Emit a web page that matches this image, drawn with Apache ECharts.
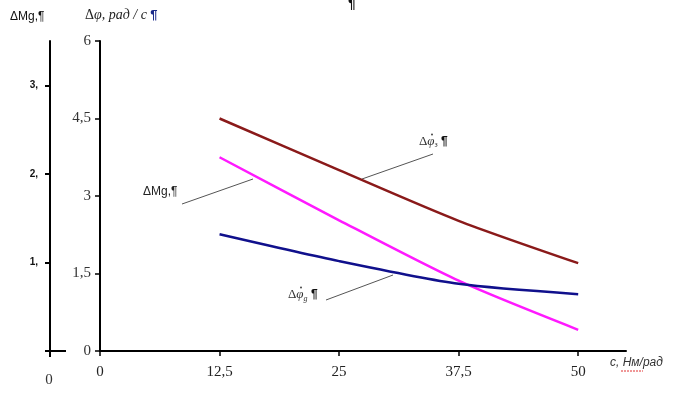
<!DOCTYPE html>
<html>
<head>
<meta charset="utf-8">
<script src="https://cdn.jsdelivr.net/npm/echarts@6/dist/echarts.min.js"></script>
<style>html,body{margin:0;padding:0;background:#fff}#c{width:674px;height:412px}</style>
</head>
<body>
<div id="c"></div>
<script>
// Data
const stiffness = [12.5, 25, 37.5, 50];            // c, Нм/рад
const dPhiZ     = [4.50, 3.50, 2.52, 1.70];        // Δφз (brown)
const dMg       = [3.75, 2.53, 1.36, 0.41];        // ΔMg (magenta), plotted on the Δφ scale
const dPhiG     = [2.26, 1.74, 1.30, 1.10];        // Δφg (navy)
const xTicks    = [0, 12.5, 25, 37.5, 50];
const yTicks    = [0, 1.5, 3, 4.5, 6];
const mgTicks   = [1, 2, 3];

const pairs = ys => stiffness.map((x, i) => [x, ys[i]]);
const comma = v => String(v).replace('.', ',');

const chart = echarts.init(document.getElementById('c'), null, {renderer: 'canvas'});
const serif = '"Liberation Serif", "DejaVu Serif", serif';
const sans = '"Liberation Sans", Arial, sans-serif';

chart.setOption({
  animation: false,
  backgroundColor: '#fff',
  grid: {left: 100, top: 41, width: 526, height: 310, containLabel: false},
  xAxis: {
    type: 'value', min: 0, max: 55, interval: 12.5,
    axisLine: {show: true, onZero: false, lineStyle: {color: '#000', width: 2}},
    axisTick: {show: true, length: 5, inside: false, customValues: xTicks, lineStyle: {color: '#000', width: 1.5}},
    axisLabel: {customValues: xTicks, formatter: comma, margin: 14, fontFamily: serif, fontSize: 15, color: '#222'},
    splitLine: {show: false}
  },
  yAxis: [{
    type: 'value', min: 0, max: 6, interval: 1.5,
    axisLine: {show: true, lineStyle: {color: '#000', width: 2}},
    axisTick: {show: true, length: 5, customValues: yTicks, lineStyle: {color: '#000', width: 1.5}},
    axisLabel: {customValues: yTicks, formatter: comma, margin: 9, fontFamily: serif, fontSize: 15, color: '#333'},
    splitLine: {show: false}
  }, {
    type: 'value', min: 0, max: 3.5, interval: 1, position: 'left', offset: 50,
    axisLine: {show: true, lineStyle: {color: '#000', width: 2}},
    axisTick: {show: true, length: 5, customValues: mgTicks, lineStyle: {color: '#000', width: 2}},
    axisLabel: {customValues: mgTicks, formatter: v => v + ',', margin: 12, fontFamily: sans, fontWeight: 'bold', fontSize: 10, color: '#111'},
    splitLine: {show: false}
  }],
  series: [
    {name: 'Δφз', type: 'line', data: pairs(dPhiZ), smooth: 0.25, symbol: 'none', lineStyle: {color: '#8a1a1a', width: 2.5}},
    {name: 'ΔMg', type: 'line', data: pairs(dMg), smooth: 0.25, symbol: 'none', lineStyle: {color: '#ff1aff', width: 2.5}},
    {name: 'Δφg', type: 'line', data: pairs(dPhiG), smooth: 0.25, symbol: 'none', lineStyle: {color: '#10108c', width: 2.5}}
  ],
  graphic: [
    // left axis bottom cross and extension
    {type: 'line', shape: {x1: 45, y1: 351, x2: 66, y2: 351}, style: {stroke: '#000', lineWidth: 2}},
    {type: 'line', shape: {x1: 50, y1: 351, x2: 50, y2: 357}, style: {stroke: '#000', lineWidth: 2}},
    {type: 'text', x: 49, y: 380, style: {text: '0', fontFamily: serif, fontSize: 15, fill: '#333', align: 'center', verticalAlign: 'middle'}},
    // top titles
    {type: 'text', x: 10, y: 17, style: {text: 'ΔMg,¶', fontFamily: sans, fontSize: 12, fill: '#111', verticalAlign: 'middle'}},
    {type: 'text', x: 85, y: 15, style: {
      text: '{n|Δ}{i|φ, рад / с} {b|¶}', verticalAlign: 'middle',
      rich: {n: {fontFamily: serif, fontSize: 14, fill: '#222'},
             i: {fontFamily: serif, fontStyle: 'italic', fontSize: 14, fill: '#222'},
             b: {fontFamily: sans, fontWeight: 'bold', fontSize: 13, fill: '#1a2a8a'}}}},
    {type: 'text', x: 352, y: -3, style: {text: '¶', fontFamily: sans, fontWeight: 'bold', fontSize: 14, fill: '#111', align: 'center'}},
    // x axis name
    {type: 'text', x: 610, y: 363, style: {
      text: '{i|с, Нм/рад}', verticalAlign: 'middle',
      rich: {i: {fontFamily: sans, fontStyle: 'italic', fontSize: 12, fill: '#333'}}}},
    {type: 'line', shape: {x1: 621, y1: 371, x2: 643, y2: 371}, style: {stroke: '#e03030', lineWidth: 1, lineDash: [2, 1]}},
    // series annotations
    {type: 'line', shape: {x1: 182, y1: 204, x2: 253, y2: 179}, style: {stroke: '#555', lineWidth: 1}},
    {type: 'text', x: 143, y: 192, style: {text: 'ΔMg,¶', fontFamily: sans, fontSize: 12, fill: '#222', verticalAlign: 'middle'}},
    {type: 'line', shape: {x1: 433, y1: 154, x2: 362, y2: 179}, style: {stroke: '#555', lineWidth: 1}},
    {type: 'text', x: 419, y: 142, style: {
      text: '{n|Δ}{i|φ}{s|з} {b|¶}', verticalAlign: 'middle',
      rich: {n: {fontFamily: serif, fontSize: 13, fill: '#333'},
             i: {fontFamily: serif, fontStyle: 'italic', fontSize: 13, fill: '#333'},
             s: {fontFamily: serif, fontSize: 8, fill: '#333', padding: [6, 0, 0, 0]},
             b: {fontFamily: sans, fontWeight: 'bold', fontSize: 12, fill: '#111'}}}},
    {type: 'circle', shape: {cx: 432, cy: 134.5, r: 0.9}, style: {fill: '#333'}},
    {type: 'line', shape: {x1: 326, y1: 300, x2: 393, y2: 275}, style: {stroke: '#555', lineWidth: 1}},
    {type: 'text', x: 288, y: 295, style: {
      text: '{n|Δ}{i|φ}{s|g} {b|¶}', verticalAlign: 'middle',
      rich: {n: {fontFamily: serif, fontSize: 13, fill: '#333'},
             i: {fontFamily: serif, fontStyle: 'italic', fontSize: 13, fill: '#333'},
             s: {fontFamily: serif, fontStyle: 'italic', fontSize: 8, fill: '#333', padding: [8, 0, 0, 0]},
             b: {fontFamily: sans, fontWeight: 'bold', fontSize: 12, fill: '#111'}}}},
    {type: 'circle', shape: {cx: 301, cy: 287.5, r: 0.9}, style: {fill: '#333'}}
  ]
});
</script>
</body>
</html>
